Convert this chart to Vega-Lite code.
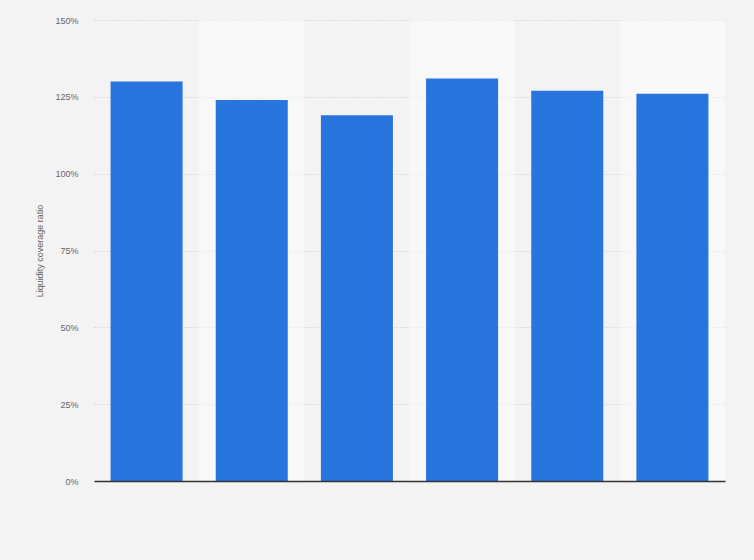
{
  "$schema": "https://vega.github.io/schema/vega-lite/v6.json",
  "autosize": {"type": "none"},
  "padding": {"left": 94, "top": 20, "right": 29, "bottom": 79},
  "width": 631,
  "height": 461,
  "background": "#f3f3f3",
  "data": {
    "values": [
      {"period": "P1", "lcr": 1.30},
      {"period": "P2", "lcr": 1.24},
      {"period": "P3", "lcr": 1.19},
      {"period": "P4", "lcr": 1.31},
      {"period": "P5", "lcr": 1.27},
      {"period": "P6", "lcr": 1.26}
    ]
  },
  "encoding": {
    "x": {
      "field": "period",
      "type": "nominal",
      "scale": {
        "domain": ["P1", "P2", "P3", "P4", "P5", "P6"],
        "paddingInner": 0,
        "paddingOuter": 0
      },
      "axis": {
        "title": null,
        "labels": false,
        "ticks": false,
        "grid": false,
        "domainColor": "#333333",
        "domainWidth": 1.5
      }
    }
  },
  "layer": [
    {
      "transform": [
        {"window": [{"op": "row_number", "as": "idx"}]},
        {"filter": "datum.idx % 2 == 0"}
      ],
      "mark": {"type": "rect", "color": "#ffffff", "opacity": 0.45}
    },
    {
      "mark": {"type": "bar", "color": "#2876dd", "width": {"band": 0.685}},
      "encoding": {
        "y": {
          "field": "lcr",
          "type": "quantitative",
          "scale": {"domain": [0, 1.5], "nice": false},
          "axis": {
            "title": "Liquidity coverage ratio",
            "format": ".0%",
            "values": [0, 0.25, 0.5, 0.75, 1, 1.25, 1.5],
            "ticks": false,
            "domain": false,
            "labelPadding": 16,
            "labelFont": "Arial",
            "labelFontSize": 9,
            "labelColor": "#666666",
            "titleFont": "Arial",
            "titleFontSize": 9,
            "titleFontWeight": "normal",
            "titleColor": "#666666",
            "titlePadding": 10,
            "gridColor": "#c8c8c8",
            "gridDash": [1, 2],
            "gridWidth": 1
          }
        }
      }
    }
  ],
  "config": {
    "view": {"stroke": null}
  }
}
